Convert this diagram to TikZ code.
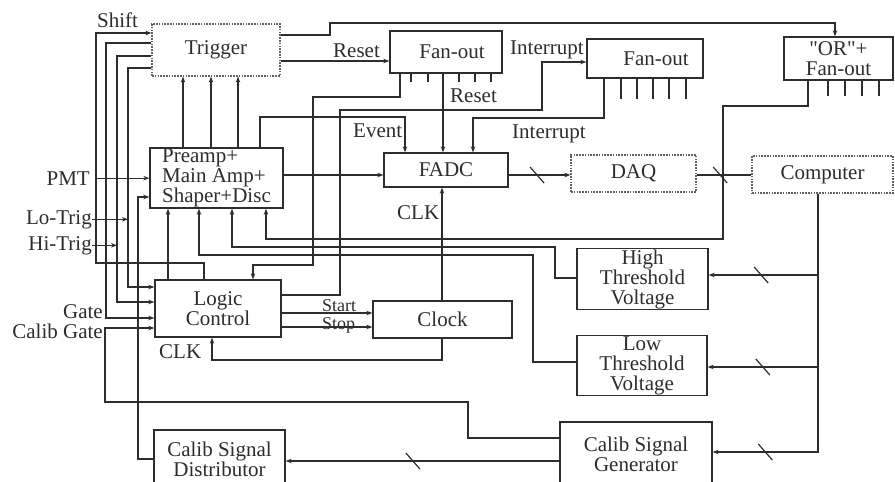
\documentclass[tikz,border=0pt]{standalone}
\usepackage{fontspec}
\setmainfont{Liberation Serif}
\usetikzlibrary{arrows.meta,calc}
\definecolor{ink}{RGB}{45,45,45}
\newcommand\sq{\XeTeXglyph\XeTeXcharglyph"22\relax}
\tikzset{
  >={Stealth[length=6pt,width=4.5pt]},
  unit/.style={draw=ink,line width=1.3pt,inner sep=1pt,align=center,
    font=\fontsize{21}{20}\selectfont,text=ink},
  dotunit/.style={unit,draw=ink!75,dash pattern=on 1.6pt off 1.2pt,line width=1.2pt},
  wire/.style={draw=ink,line width=1.2pt},
  sig/.style={wire,->},
  tag/.style={inner sep=0pt,font=\fontsize{21}{20}\selectfont,text=ink},
  % bus slash
  pics/bus/.style={code={\draw[wire] (-7,-8) -- (7,8);}},
}
\begin{document}
\begin{tikzpicture}[x=1pt,y=-1pt]
  \fill[white] (0,0) rectangle (895,482);
  \useasboundingbox (0,0) rectangle (895,482);
  % units
  \node[dotunit,minimum width=128pt,minimum height=52pt] (trig) at (216,50) {Trigger};
  \node[unit,minimum width=112pt,minimum height=42pt] (fan1) at (446,52) {\hspace*{12pt}Fan-out};
  \node[unit,minimum width=116pt,minimum height=39pt] (fan2) at (645,58.5) {\hspace*{22pt}Fan-out};
  \node[unit,minimum width=109pt,minimum height=43pt] (orf) at (838.5,58.5) {\sq OR\sq+\\Fan-out};
  \node[unit,minimum width=133pt,minimum height=60pt,align=left] (pre) at (216.5,178) {Preamp+\\Main Amp+\\Shaper+Disc};
  \node[unit,minimum width=124pt,minimum height=34pt] (fadc) at (446,170) {FADC};
  \node[dotunit,minimum width=125pt,minimum height=37pt] (daq) at (633.5,173.5) {DAQ};
  \node[dotunit,minimum width=141pt,minimum height=37pt] (comp) at (822.5,174.5) {Computer};
  \node[unit,minimum width=126pt,minimum height=57pt] (logic) at (218,308.5) {Logic\\Control};
  \node[unit,minimum width=139pt,minimum height=37pt] (clock) at (442.5,319.5) {Clock};
  \node[unit,minimum width=131pt,minimum height=60pt] (hthr) at (642.5,279) {High\\Threshold\\Voltage};
  \node[unit,minimum width=130pt,minimum height=57pt] (lthr) at (642,365.5) {Low\\Threshold\\Voltage};
  \node[unit,minimum width=152pt,minimum height=64pt] (gen) at (636,454) {Calib Signal\\Generator};
  \node[unit,minimum width=131pt,minimum height=58pt] (dist) at (219.5,459) {Calib Signal\\Distributor};
  % signal names
  \node[tag,anchor=base west] (shift) at (97,27) {Shift};
  \node[tag,anchor=base east] (pmt) at (90,185) {PMT};
  \node[tag,anchor=base east] (lotrig) at (92,224) {Lo-Trig};
  \node[tag,anchor=base east] (hitrig) at (92,250) {Hi-Trig};
  \node[tag,anchor=base east] (gate) at (103,318) {Gate};
  \node[tag,anchor=base east] (cgate) at (103,338) {Calib Gate};
  \node[tag,anchor=base west,font=\fontsize{18}{18}\selectfont] (start) at (322,311) {Start};
  \node[tag,anchor=base west,font=\fontsize{18}{18}\selectfont] (stop) at (322,329) {Stop};
  \node[tag,anchor=base west] (clkl) at (159,358) {CLK};
  \node[tag,anchor=base west] (clkf) at (397,219) {CLK};
  \node[tag,anchor=base west] (rst1) at (333,57) {Reset};
  \node[tag,anchor=base west] (int1) at (510,54) {Interrupt};
  \node[tag,anchor=base west] (rst2) at (450,102) {Reset};
  \node[tag,anchor=base west] (event) at (353,137) {Event};
  \node[tag,anchor=base west] (int2) at (512,138) {Interrupt};
  % left side
  \draw[sig] (logic.north -| 204,0) -- (204,263) -| (96,33) -- (trig.west |- 0,33);
  \draw[sig] (trig.west |- 0,43) -| (106,318) -- (logic.west |- 0,318);
  \draw[sig] (trig.west |- 0,56) -| (117,302) -- (logic.west |- 0,302);
  \draw[sig] (trig.west |- 0,68) -| (128,287) -- (logic.west |- 0,287);
  \draw[sig] ([xshift=5pt]pmt.east) -- (pre.west |- pmt.east);
  \draw[sig] (lotrig.east) -- (lotrig.east -| 128,0);
  \draw[sig] (hitrig.east) -- (hitrig.east -| 117,0);
  \draw[sig] (gen.west |- 0,438) -| (468,402) -| (105,328) -- (logic.west |- 0,328);
  \draw[sig] (dist.west) -| (138,197) -- (pre.west |- 0,197);
  \draw[sig] (gen.west |- 0,461) -- (dist.east |- 0,461) coordinate[pos=.535] (b6);
  % preamp
  \foreach \x in {183,211,238} \draw[sig] (pre.north -| \x,0) -- (trig.south -| \x,0);
  \draw[sig] (pre.north -| 260,0) |- (405,117) -- (fadc.north -| 405,0);
  \draw[sig] (pre.east |- 0,175) -- (fadc.west |- 0,175);
  \draw[sig] (logic.north -| 168,0) -- (pre.south -| 168,0);
  \draw[sig] (orf.south -| 808,0) |- (723,106) |- (266,239) -- (pre.south -| 266,0);
  \draw[sig] (hthr.west |- 0,278) -| (555,247) -| (pre.south -| 232,0);
  \draw[sig] (lthr.west |- 0,362) -| (533,255) -| (pre.south -| 199,0);
  % top
  \draw[sig] (trig.east |- 0,35) -| (330,23) -| (orf.north -| 835,0);
  \draw[sig] (trig.east |- 0,61) -- (fan1.west |- 0,61);
  \draw[sig] (fan1.south -| 443,0) -- (fadc.north -| 443,0);
  \draw[sig] (fan1.south -| 400,0) |- (313,97) |- (253,265) -- (logic.north -| 253,0);
  \draw[sig] (logic.east |- 0,295) -| (340,110) -| (542,62) -- (fan2.west |- 0,62);
  \draw[sig] (fan2.south -| 604,0) |- (473,118) -- (fadc.north -| 473,0);
  % clock
  \draw[sig] (logic.east |- 0,313) -- (clock.west |- 0,313);
  \draw[sig] (logic.east |- 0,327) -- (clock.west |- 0,327);
  \draw[sig] (clock.north -| 442,0) -- (fadc.south -| 442,0);
  \draw[sig] (clock.south -| 442,0) |- (212,360) -- (logic.south -| 212,0);
  % data path
  \draw[sig] (fadc.east |- 0,175) -- (daq.west |- 0,175) coordinate[pos=.46] (b1);
  \draw[wire] (daq.east |- 0,175) -- (comp.west |- 0,175) coordinate[pos=.43] (b2);
  \draw[sig] (comp.south -| 818,0) |- (hthr.east |- 0,275) coordinate[pos=.76] (b3);
  \draw[sig] (comp.south -| 818,0) |- (lthr.east |- 0,367) coordinate[pos=.75] (b4);
  \draw[sig] (comp.south -| 818,0) |- (gen.east |- 0,452) coordinate[pos=.75] (b5);
  \foreach \b in {b1,b2,b3,b4,b5,b6} \pic at (\b) {bus};
  % fan-out outputs
  \foreach \x in {411,428,459,475,491} \draw[wire] (fan1.south -| \x,0) -- ++(0,8);
  \foreach \x in {621,637,653,669,686} \draw[wire] (fan2.south -| \x,0) -- ++(0,20);
  \foreach \x in {828,845,862,879} \draw[wire] (orf.south -| \x,0) -- ++(0,15);
\end{tikzpicture}
\end{document}
